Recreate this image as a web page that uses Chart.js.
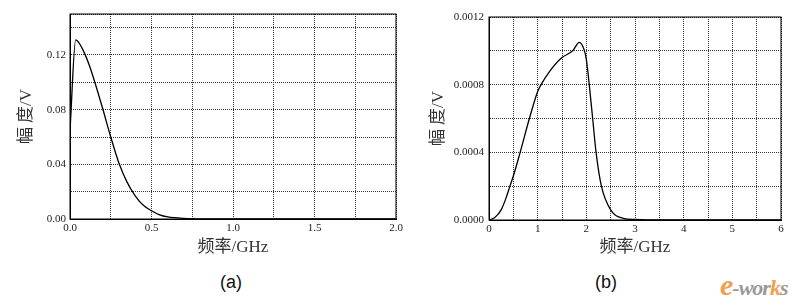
<!DOCTYPE html>
<html>
<head>
<meta charset="utf-8">
<script src="https://cdn.jsdelivr.net/npm/chart.js@4/dist/chart.umd.min.js"></script>
<style>
  body { margin: 0; background: #fff; width: 804px; height: 305px; position: relative; overflow: hidden; }
  .box { position: absolute; top: 0; height: 260px; }
  .cap { position: absolute; top: 272px; font: 18px "Liberation Sans", Arial, sans-serif; color: #111; transform: translateX(-50%); }
  .logo { position: absolute; left: 720px; top: 268px; font: italic bold 22px "Liberation Serif", serif; color: #999; letter-spacing: -1px; }
  .logo b { color: #f0a050; }
</style>
</head>
<body>
<div class="box" style="left:0;width:410px"><canvas id="chartA"></canvas></div>
<div class="box" style="left:410px;width:394px"><canvas id="chartB"></canvas></div>
<div class="cap" style="left:231px">(a)</div>
<div class="cap" style="left:606px">(b)</div>
<div class="logo"><b style="font-size:30px">e</b>-wor<b>k</b>s</div>
<script>
// chart (a): spectrum up to 2 GHz
const freqA = [0, 0.035, 0.06, 0.09, 0.12, 0.15, 0.2, 0.25, 0.3, 0.35, 0.4, 0.45, 0.5, 0.55, 0.6, 0.7, 0.8, 1.0, 2.0];
const ampA = [0.065, 0.131, 0.128, 0.121, 0.112, 0.101, 0.081, 0.060, 0.041, 0.027, 0.017, 0.010, 0.006, 0.003, 0.0015, 0.0004, 0.0001, 0, 0];

// chart (b): spectrum up to 6 GHz
const freqB = [0, 0.12, 0.25, 0.35, 0.43, 0.5, 0.64, 0.83, 1.0, 1.07, 1.25, 1.5, 1.72, 1.855, 1.95, 2.0, 2.06, 2.13, 2.2, 2.31, 2.5, 2.76, 3.0, 3.5, 4, 6];
const ampB = [0, 0.000015, 0.00006, 0.00013, 0.0002, 0.00026, 0.0004, 0.0006, 0.00076, 0.0008, 0.00088, 0.00096, 0.001, 0.00105, 0.00101, 0.00095, 0.0008, 0.0006, 0.0004, 0.0002, 0.00006, 0.00001, 0.000003, 0, 0, 0];

const yTitle = '幅 度/V';
const xTitle = '频率/GHz';

const tickFont = { family: '"Liberation Serif", "Times New Roman", serif', size: 11 };
const titleFont = { family: '"Liberation Serif", "Noto Sans CJK SC", serif', size: 17 };

// draws the solid frame round the plot area
const frame = {
	id: 'frame',
	afterDraw(chart) {
		const { ctx, chartArea: a } = chart;
		ctx.save();
		ctx.setLineDash([]);
		ctx.lineWidth = 1;
		ctx.strokeStyle = '#000';
		ctx.strokeRect(a.left, a.top, a.right - a.left, a.bottom - a.top);
		ctx.restore();
	}
};

function isMult(v, step) {
	const r = v / step;
	return Math.abs(r - Math.round(r)) < 1e-6;
}

function makeChart(id, xs, ys, opt) {
	return new Chart(document.getElementById(id), {
		type: 'line',
		data: {
			datasets: [{
				data: xs.map((x, i) => ({ x: x, y: ys[i] })),
				borderColor: '#000',
				borderWidth: 1.3,
				pointRadius: 0,
				cubicInterpolationMode: 'monotone',
				fill: false
			}]
		},
		options: {
			responsive: true,
			maintainAspectRatio: false,
			animation: false,
			layout: { padding: opt.pad },
			plugins: { legend: { display: false }, tooltip: { enabled: false } },
			scales: {
				x: {
					type: 'linear',
					min: 0,
					max: opt.xMax,
					afterFit: s => { s.height = opt.xH; },
					ticks: {
						stepSize: opt.xStep,
						padding: 3,
						maxRotation: 0,
						autoSkip: false,
						font: tickFont,
						color: '#222',
						callback: v => isMult(v, opt.xLab) ? v.toFixed(opt.xDec) : ''
					},
					grid: { color: '#333', drawTicks: false },
					border: { color: '#000', dash: [1, 1] },
					title: { display: true, text: xTitle, font: titleFont, color: '#333', padding: { top: 0, bottom: 2 } }
				},
				y: {
					min: 0,
					max: opt.yMax,
					afterFit: s => { s.width = opt.yW; },
					ticks: {
						stepSize: opt.yStep,
						padding: opt.yPad,
						autoSkip: false,
						font: tickFont,
						color: '#222',
						callback: v => isMult(v, opt.yLab) && isMult(v, opt.yStep) ? v.toFixed(opt.yDec) : ''
					},
					grid: { color: '#333', drawTicks: false },
					border: { color: '#000', dash: [1, 1] },
					title: { display: true, text: yTitle, font: titleFont, color: '#333', padding: { top: opt.yTitlePad, bottom: 0 } }
				}
			}
		},
		plugins: [frame]
	});
}

makeChart('chartA', freqA, ampA, {
	pad: { top: 14, right: 14, left: 0, bottom: 0 },
	xMax: 2.0, xStep: 0.25, xLab: 0.5, xDec: 1, xH: 41,
	yMax: 0.15, yStep: 0.02, yLab: 0.04, yDec: 2, yW: 70, yPad: 4, yTitlePad: 16
});

makeChart('chartB', freqB, ampB, {
	pad: { top: 17, right: 23, left: 0, bottom: 0 },
	xMax: 6, xStep: 0.5, xLab: 1, xDec: 0, xH: 40,
	yMax: 0.0012, yStep: 0.0002, yLab: 0.0004, yDec: 4, yW: 79, yPad: 5, yTitlePad: 18
});
</script>
</body>
</html>
